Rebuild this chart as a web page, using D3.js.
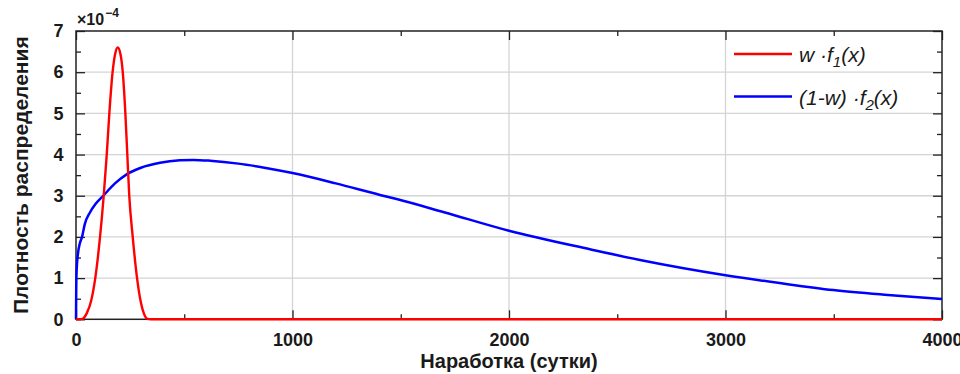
<!DOCTYPE html>
<html>
<head>
<meta charset="utf-8">
<script src="https://cdn.jsdelivr.net/npm/d3@7"></script>
<style>
  html, body { margin: 0; padding: 0; background: #fff; }
  svg { display: block; font-family: "Liberation Sans", Arial, sans-serif; }
</style>
</head>
<body>
<svg id="chart" width="960" height="374"></svg>
<script>
// ---- data ----
const xTicks = [0, 1000, 2000, 3000, 4000];
const xMinor = [500, 1500, 2500, 3500];
const yTicks = [0, 1, 2, 3, 4, 5, 6, 7];
const yMinor = [0.5, 1.5, 2.5, 3.5, 4.5, 5.5, 6.5];
const xLabel = "Наработка (сутки)";
const yLabel = "Плотность распределения";

// red: w·f1(x), values in units of 1e-4
const redX = [0, 20, 30, 50, 70, 89, 111, 128, 142, 154, 169, 181, 193, 205, 216, 228, 237, 246, 262, 282, 300, 315, 330, 345, 1000, 2000, 3000, 4000];
const redY = [0, 0, 0.01, 0.15, 0.45, 1.0, 2.0, 3.0, 4.0, 5.0, 6.0, 6.45, 6.6, 6.45, 6.0, 5.0, 4.0, 3.0, 2.0, 1.0, 0.4, 0.12, 0.01, 0, 0, 0, 0, 0];

// blue: (1-w)·f2(x), values in units of 1e-4
const blueX = [0, 1, 3, 8, 18, 28, 40, 65, 90, 126, 180, 234, 300, 388, 480, 542, 620, 750, 870, 1000, 1200, 1404, 1481, 1700, 2000, 2374, 2605, 3000, 3250, 3498, 3750, 4000];
const blueY = [0, 0.7, 1.2, 1.55, 1.85, 2.0, 2.3, 2.6, 2.8, 3.0, 3.3, 3.52, 3.68, 3.8, 3.86, 3.87, 3.85, 3.78, 3.68, 3.55, 3.3, 3.02, 2.92, 2.6, 2.15, 1.70, 1.44, 1.07, 0.88, 0.71, 0.59, 0.49];

// ---- layout ----
const L = 76, R = 942, T = 31, B = 319.3;
const svg = d3.select("#chart");
const x = d3.scaleLinear().domain([0, 4000]).range([L, R]);
const y = d3.scaleLinear().domain([0, 7]).range([B, T]);

// gridlines
const grid = svg.append("g").attr("stroke", "#d4d4d4").attr("stroke-width", 1.3);
grid.selectAll(".gy").data(yTicks.slice(1, -1)).enter().append("line")
  .attr("x1", L).attr("x2", R).attr("y1", d => y(d)).attr("y2", d => y(d));
grid.selectAll(".gx").data(xTicks.slice(1, -1)).enter().append("line")
  .attr("y1", T).attr("y2", B).attr("x1", d => x(d)).attr("x2", d => x(d));

function styleAxis(g) {
  g.selectAll(".domain").remove();
  g.selectAll(".tick line").attr("stroke", "#222").attr("stroke-width", 1.3);
  g.selectAll("text").attr("fill", "#1a1a1a").attr("font-weight", "bold").attr("font-size", 18);
}

// bottom
svg.append("g").attr("transform", `translate(0,${B})`)
  .call(d3.axisBottom(x).tickValues(xTicks).tickSizeInner(-9).tickSizeOuter(0).tickPadding(14).tickFormat(d3.format("d")))
  .call(styleAxis);
svg.append("g").attr("transform", `translate(0,${B})`)
  .call(d3.axisBottom(x).tickValues(xMinor).tickSizeInner(-5).tickSizeOuter(0).tickFormat(""))
  .call(styleAxis);
// top
svg.append("g").attr("transform", `translate(0,${T})`)
  .call(d3.axisTop(x).tickValues(xTicks).tickSizeInner(-9).tickSizeOuter(0).tickFormat(""))
  .call(styleAxis);
svg.append("g").attr("transform", `translate(0,${T})`)
  .call(d3.axisTop(x).tickValues(xMinor).tickSizeInner(-5).tickSizeOuter(0).tickFormat(""))
  .call(styleAxis);
// left
svg.append("g").attr("transform", `translate(${L},0)`)
  .call(d3.axisLeft(y).tickValues(yTicks).tickSizeInner(-9).tickSizeOuter(0).tickPadding(12.5).tickFormat(d3.format("d")))
  .call(styleAxis);
svg.append("g").attr("transform", `translate(${L},0)`)
  .call(d3.axisLeft(y).tickValues(yMinor).tickSizeInner(-5).tickSizeOuter(0).tickFormat(""))
  .call(styleAxis);
// right
svg.append("g").attr("transform", `translate(${R},0)`)
  .call(d3.axisRight(y).tickValues(yTicks).tickSizeInner(-9).tickSizeOuter(0).tickFormat(""))
  .call(styleAxis);
svg.append("g").attr("transform", `translate(${R},0)`)
  .call(d3.axisRight(y).tickValues(yMinor).tickSizeInner(-5).tickSizeOuter(0).tickFormat(""))
  .call(styleAxis);

// frame
svg.append("rect").attr("x", L).attr("y", T).attr("width", R - L).attr("height", B - T)
  .attr("fill", "none").attr("stroke", "#222").attr("stroke-width", 1.5);

// curves
const line = d3.line().curve(d3.curveMonotoneX).x(d => x(d[0])).y(d => y(d[1]));
svg.append("path").datum(blueX.map((v, i) => [v, blueY[i]]))
  .attr("d", line).attr("fill", "none").attr("stroke", "#0000ff").attr("stroke-width", 2.5);
svg.append("path").datum(redX.map((v, i) => [v, redY[i]]))
  .attr("d", line).attr("fill", "none").attr("stroke", "#ff0000").attr("stroke-width", 2.4);

// exponent label
const ex = svg.append("text").attr("x", 77).attr("y", 25).attr("fill", "#1a1a1a")
  .attr("font-weight", "bold").attr("font-size", 16);
ex.append("tspan").text("×10");
ex.append("tspan").attr("font-size", 12).attr("dy", -8).attr("dx", 1).text("−4");

// axis titles
svg.append("text").attr("x", (L + R) / 2).attr("y", 368).attr("text-anchor", "middle")
  .attr("font-weight", "bold").attr("font-size", 20).attr("fill", "#1a1a1a").text(xLabel);
svg.append("text").attr("transform", `translate(27.5,${(T + B) / 2}) rotate(-90)`)
  .attr("text-anchor", "middle").attr("font-weight", "bold").attr("font-size", 21)
  .attr("fill", "#1a1a1a").text(yLabel);

// legend
const legend = [
  { color: "#ff0000", w: 2.4, parts: [["w ·f", 0], ["1", 1], ["(x)", 2]] },
  { color: "#0000ff", w: 2.5, parts: [["(1-w) ·f", 0], ["2", 1], ["(x)", 2]] }
];
const legY = [54, 96.5];
legend.forEach((item, i) => {
  const ly = legY[i];
  svg.append("line").attr("x1", 734).attr("x2", 792).attr("y1", ly).attr("y2", ly)
    .attr("stroke", item.color).attr("stroke-width", item.w);
  const t = svg.append("text").attr("x", 799).attr("y", ly + 8)
    .attr("font-style", "italic").attr("font-size", 21).attr("fill", "#1a1a1a");
  item.parts.forEach(([s, kind]) => {
    const ts = t.append("tspan").text(s);
    if (kind === 1) ts.attr("font-size", 15).attr("dy", 5);
    if (kind === 2) ts.attr("dy", -5);
  });
});
</script>
</body>
</html>
